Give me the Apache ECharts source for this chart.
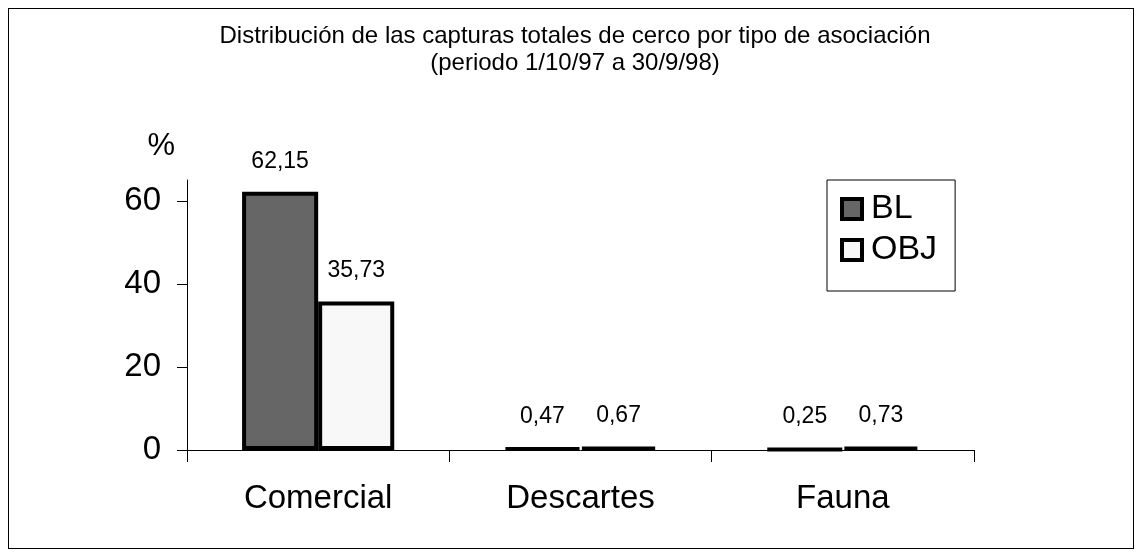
<!DOCTYPE html>
<html>
<head>
<meta charset="utf-8">
<script src="https://cdn.jsdelivr.net/npm/echarts@6/dist/echarts.min.js"></script>
<style>
html,body{margin:0;padding:0;background:#fff;}
#chart{position:absolute;left:0;top:0;width:1142px;height:557px;}
#frame{position:absolute;left:8px;top:8px;width:1124px;height:539px;border:1px solid #000;pointer-events:none;}
</style>
</head>
<body>
<div id="chart"></div>
<div id="frame"></div>
<script>
const categories = ['Comercial', 'Descartes', 'Fauna'];
const seriesNames = ['BL', 'OBJ'];
const blValues = [62.15, 0.47, 0.25];
const objValues = [35.73, 0.67, 0.73];
const yTicks = [0, 20, 40, 60];

const font = "'Liberation Sans', Arial, sans-serif";
const chart = echarts.init(document.getElementById('chart'), null, {renderer: 'canvas'});

function fmt(p) { return String(p.value).replace('.', ','); }

const labelCfg = {
  show: true, position: 'top', distance: 19,
  formatter: fmt, color: '#000', fontSize: 23, fontFamily: font
};

chart.setOption({
  animation: false,
  backgroundColor: '#fff',
  title: {
    text: 'Distribución de las capturas totales de cerco por tipo de asociación\n(periodo 1/10/97 a 30/9/98)',
    left: 570, top: 18, textAlign: 'center',
    textStyle: {fontSize: 24, fontWeight: 'normal', color: '#000', fontFamily: font, lineHeight: 27}
  },
  legend: {
    orient: 'vertical', left: 827, top: 180,
    data: seriesNames,
    icon: 'rect', itemWidth: 20, itemHeight: 20, itemGap: 7,
    padding: [12, 18, 24, 13],
    borderColor: '#000', borderWidth: 1, backgroundColor: '#fff',
    itemStyle: {borderColor: '#000', borderWidth: 4},
    textStyle: {fontSize: 34, color: '#000', fontFamily: font, padding: [0, 0, 0, 4]}
  },
  grid: {left: 187, right: 168, top: 180, bottom: 107, containLabel: false},
  xAxis: {
    type: 'category', data: categories,
    axisLine: {lineStyle: {color: '#000', width: 1}},
    axisTick: {show: true, length: 12, lineStyle: {color: '#000'}},
    axisLabel: {color: '#000', fontSize: 33, fontFamily: font, margin: 32},
    splitLine: {show: false}
  },
  yAxis: {
    type: 'value', min: 0, max: 65, interval: 20,
    name: '%', nameLocation: 'end', nameGap: 18,
    nameTextStyle: {color: '#000', fontSize: 31, fontFamily: font, align: 'right', padding: [0, 12, 0, 0]},
    axisLine: {show: true, lineStyle: {color: '#000', width: 1}},
    axisTick: {show: true, length: 10, lineStyle: {color: '#000'}, customValues: yTicks},
    axisLabel: {color: '#000', fontSize: 33, fontFamily: font, margin: 26, customValues: yTicks},
    splitLine: {show: false}
  },
  series: [
    {
      name: seriesNames[0], type: 'bar', data: blValues,
      barGap: '0%', barCategoryGap: '42%',
      itemStyle: {color: '#666666', borderColor: '#000', borderWidth: 4},
      label: labelCfg
    },
    {
      name: seriesNames[1], type: 'bar', data: objValues,
      itemStyle: {color: '#f8f8f8', borderColor: '#000', borderWidth: 4},
      label: labelCfg
    }
  ]
});
</script>
</body>
</html>
